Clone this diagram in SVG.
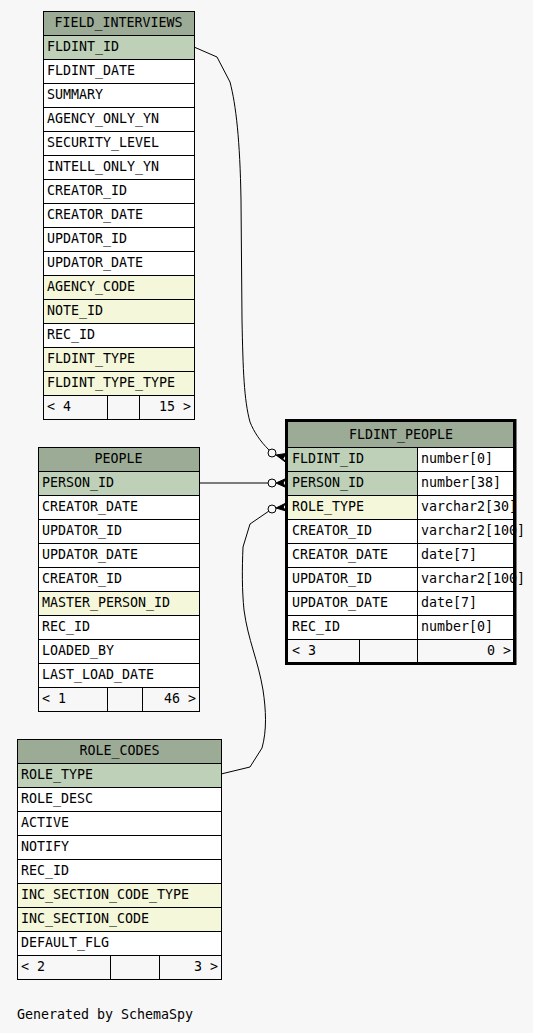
<svg xmlns="http://www.w3.org/2000/svg" width="533" height="1033" viewBox="0 0 533 1033">
<style>
.h{fill:#9bab96;stroke:#000;stroke-width:1}
.pk{fill:#bed1b8;stroke:#000;stroke-width:1}
.fk{fill:#f4f7da;stroke:#000;stroke-width:1}
.w{fill:#ffffff;stroke:#000;stroke-width:1}
.ft{fill:#f7f7f7;stroke:#000;stroke-width:1}
text{font-family:"DejaVu Sans Mono","Liberation Mono",monospace;font-size:13.3px;fill:#000}
.c{text-anchor:middle}
.r{text-anchor:end}
.ln{fill:none;stroke:#000;stroke-width:1}
.dot{fill:#f7f7f7;stroke:#000;stroke-width:1}
.crow{fill:#000;stroke:#000;stroke-width:1}
</style>
<rect x="0" y="0" width="533" height="1033" fill="#f7f7f7"/>

<g id="connectors">
<path class="ln" d="M194,47 L217,57 L230,82 C236,105 240,140 241,200 L242,320 C243,370 244,400 250,422 C254,432 260,441 269,450"/>
<circle class="dot" cx="272" cy="453" r="4"/>
<polygon class="crow" points="276,455 286,453.5 283,458.5 286,462.5"/>
<path class="ln" d="M199,483 L268,483"/>
<circle class="dot" cx="272" cy="483" r="4"/>
<polygon class="crow" points="276,483 286,478.5 283,483 286,487.5"/>
<path class="ln" d="M269,511 L250,524 L243,547 C242,570 242,590 244,610 C248,640 258,660 263,690 C266,710 267,730 262,748 L250,767 L221,774"/>
<circle class="dot" cx="272" cy="509" r="4"/>
<polygon class="crow" points="276,508 286,503 283,507 286,511"/>
</g>

<g id="FIELD_INTERVIEWS">
<rect class="h" x="43.5" y="11.5" width="151" height="24"/>
<text class="c" x="118.5" y="27">FIELD_INTERVIEWS</text>
<rect class="pk" x="43.5" y="35.5" width="151" height="24"/><text x="47" y="51">FLDINT_ID</text>
<rect class="w" x="43.5" y="59.5" width="151" height="24"/><text x="47" y="75">FLDINT_DATE</text>
<rect class="w" x="43.5" y="83.5" width="151" height="24"/><text x="47" y="99">SUMMARY</text>
<rect class="w" x="43.5" y="107.5" width="151" height="24"/><text x="47" y="123">AGENCY_ONLY_YN</text>
<rect class="w" x="43.5" y="131.5" width="151" height="24"/><text x="47" y="147">SECURITY_LEVEL</text>
<rect class="w" x="43.5" y="155.5" width="151" height="24"/><text x="47" y="171">INTELL_ONLY_YN</text>
<rect class="w" x="43.5" y="179.5" width="151" height="24"/><text x="47" y="195">CREATOR_ID</text>
<rect class="w" x="43.5" y="203.5" width="151" height="24"/><text x="47" y="219">CREATOR_DATE</text>
<rect class="w" x="43.5" y="227.5" width="151" height="24"/><text x="47" y="243">UPDATOR_ID</text>
<rect class="w" x="43.5" y="251.5" width="151" height="24"/><text x="47" y="267">UPDATOR_DATE</text>
<rect class="fk" x="43.5" y="275.5" width="151" height="24"/><text x="47" y="291">AGENCY_CODE</text>
<rect class="fk" x="43.5" y="299.5" width="151" height="24"/><text x="47" y="315">NOTE_ID</text>
<rect class="w" x="43.5" y="323.5" width="151" height="24"/><text x="47" y="339">REC_ID</text>
<rect class="fk" x="43.5" y="347.5" width="151" height="24"/><text x="47" y="363">FLDINT_TYPE</text>
<rect class="fk" x="43.5" y="371.5" width="151" height="24"/><text x="47" y="387">FLDINT_TYPE_TYPE</text>
<rect class="ft" x="43.5" y="395.5" width="64" height="24"/>
<rect class="ft" x="107.5" y="395.5" width="32" height="24"/>
<rect class="ft" x="139.5" y="395.5" width="55" height="24"/>
<text x="47" y="411">&lt; 4</text>
<text class="r" x="191" y="411">15 &gt;</text>
</g>

<g id="PEOPLE">
<rect class="h" x="38.5" y="447.5" width="161" height="24"/>
<text class="c" x="118.5" y="463">PEOPLE</text>
<rect class="pk" x="38.5" y="471.5" width="161" height="24"/><text x="42" y="487">PERSON_ID</text>
<rect class="w" x="38.5" y="495.5" width="161" height="24"/><text x="42" y="511">CREATOR_DATE</text>
<rect class="w" x="38.5" y="519.5" width="161" height="24"/><text x="42" y="535">UPDATOR_ID</text>
<rect class="w" x="38.5" y="543.5" width="161" height="24"/><text x="42" y="559">UPDATOR_DATE</text>
<rect class="w" x="38.5" y="567.5" width="161" height="24"/><text x="42" y="583">CREATOR_ID</text>
<rect class="fk" x="38.5" y="591.5" width="161" height="24"/><text x="42" y="607">MASTER_PERSON_ID</text>
<rect class="w" x="38.5" y="615.5" width="161" height="24"/><text x="42" y="631">REC_ID</text>
<rect class="w" x="38.5" y="639.5" width="161" height="24"/><text x="42" y="655">LOADED_BY</text>
<rect class="w" x="38.5" y="663.5" width="161" height="24"/><text x="42" y="679">LAST_LOAD_DATE</text>
<rect class="ft" x="38.5" y="687.5" width="69" height="24"/>
<rect class="ft" x="107.5" y="687.5" width="35" height="24"/>
<rect class="ft" x="142.5" y="687.5" width="57" height="24"/>
<text x="42" y="703">&lt; 1</text>
<text class="r" x="196" y="703">46 &gt;</text>
</g>

<g id="ROLE_CODES">
<rect class="h" x="17.5" y="739.5" width="204" height="24"/>
<text class="c" x="119.5" y="755">ROLE_CODES</text>
<rect class="pk" x="17.5" y="763.5" width="204" height="24"/><text x="21" y="779">ROLE_TYPE</text>
<rect class="w" x="17.5" y="787.5" width="204" height="24"/><text x="21" y="803">ROLE_DESC</text>
<rect class="w" x="17.5" y="811.5" width="204" height="24"/><text x="21" y="827">ACTIVE</text>
<rect class="w" x="17.5" y="835.5" width="204" height="24"/><text x="21" y="851">NOTIFY</text>
<rect class="w" x="17.5" y="859.5" width="204" height="24"/><text x="21" y="875">REC_ID</text>
<rect class="fk" x="17.5" y="883.5" width="204" height="24"/><text x="21" y="899">INC_SECTION_CODE_TYPE</text>
<rect class="fk" x="17.5" y="907.5" width="204" height="24"/><text x="21" y="923">INC_SECTION_CODE</text>
<rect class="w" x="17.5" y="931.5" width="204" height="24"/><text x="21" y="947">DEFAULT_FLG</text>
<rect class="ft" x="17.5" y="955.5" width="93" height="24"/>
<rect class="ft" x="110.5" y="955.5" width="49" height="24"/>
<rect class="ft" x="159.5" y="955.5" width="62" height="24"/>
<text x="21" y="971">&lt; 2</text>
<text class="r" x="218" y="971">3 &gt;</text>
</g>

<g id="FLDINT_PEOPLE">
<rect class="h" x="287.5" y="421.5" width="226" height="26"/>
<text class="c" x="401" y="439">FLDINT_PEOPLE</text>
<rect class="pk" x="287.5" y="447.5" width="130" height="24"/><rect class="w" x="417.5" y="447.5" width="96" height="24"/>
<rect class="pk" x="287.5" y="471.5" width="130" height="24"/><rect class="w" x="417.5" y="471.5" width="96" height="24"/>
<rect class="fk" x="287.5" y="495.5" width="130" height="24"/><rect class="w" x="417.5" y="495.5" width="96" height="24"/>
<rect class="w" x="287.5" y="519.5" width="130" height="24"/><rect class="w" x="417.5" y="519.5" width="96" height="24"/>
<rect class="w" x="287.5" y="543.5" width="130" height="24"/><rect class="w" x="417.5" y="543.5" width="96" height="24"/>
<rect class="w" x="287.5" y="567.5" width="130" height="24"/><rect class="w" x="417.5" y="567.5" width="96" height="24"/>
<rect class="w" x="287.5" y="591.5" width="130" height="24"/><rect class="w" x="417.5" y="591.5" width="96" height="24"/>
<rect class="w" x="287.5" y="615.5" width="130" height="24"/><rect class="w" x="417.5" y="615.5" width="96" height="24"/>
<rect class="ft" x="287.5" y="639.5" width="72" height="24"/>
<rect class="ft" x="359.5" y="639.5" width="58" height="24"/>
<rect class="ft" x="417.5" y="639.5" width="96" height="24"/>
<text x="292" y="463">FLDINT_ID</text><text x="421" y="463">number[0]</text>
<text x="292" y="487">PERSON_ID</text><text x="421" y="487">number[38]</text>
<text x="292" y="511">ROLE_TYPE</text><text x="421" y="511">varchar2[30]</text>
<text x="292" y="535">CREATOR_ID</text><text x="421" y="535">varchar2[100]</text>
<text x="292" y="559">CREATOR_DATE</text><text x="421" y="559">date[7]</text>
<text x="292" y="583">UPDATOR_ID</text><text x="421" y="583">varchar2[100]</text>
<text x="292" y="607">UPDATOR_DATE</text><text x="421" y="607">date[7]</text>
<text x="292" y="631">REC_ID</text><text x="421" y="631">number[0]</text>
<text x="292" y="655">&lt; 3</text>
<text class="r" x="511" y="655">0 &gt;</text>
<rect x="286.5" y="420.5" width="228.5" height="243" fill="none" stroke="#000" stroke-width="3"/>
</g>

<text x="17" y="1019">Generated by SchemaSpy</text>
</svg>
